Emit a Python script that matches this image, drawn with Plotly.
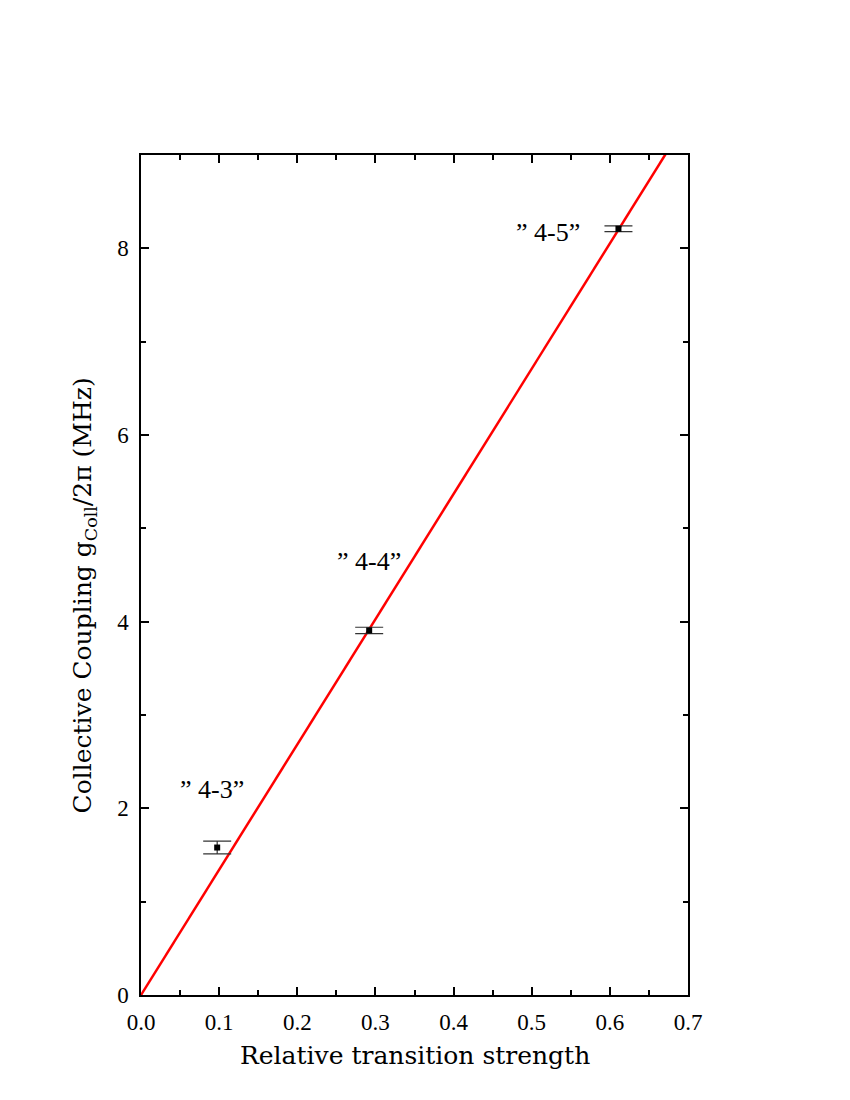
import plotly.graph_objects as go

# measured data points
strength = [0.0975, 0.292, 0.611]
coupling = [1.58, 3.906, 8.21]
coupling_err = [0.068, 0.034, 0.03]
labels = ["” 4-3”", "” 4-4”", "” 4-5”"]
label_x = [0.091, 0.292, 0.521]
label_y = [2.2, 4.64, 8.17]

# linear fit through origin
slope = 13.42
fit_x = [0.0, 0.7]
fit_y = [slope * v for v in fit_x]

serif = "Liberation Serif"
wide_serif = "DejaVu Serif"

fig = go.Figure()

fig.add_trace(go.Scatter(x=fit_x, y=fit_y, mode="lines",
                         line=dict(color="#ff0000", width=2.5), showlegend=False))

fig.add_trace(go.Scatter(x=strength, y=coupling, mode="markers",
                         marker=dict(symbol="square", size=6, color="black"),
                         error_y=dict(type="data", array=coupling_err, color="#333333",
                                      thickness=1.2, width=14),
                         showlegend=False))

for t, xx, yy in zip(labels, label_x, label_y):
    fig.add_annotation(x=xx, y=yy, text=t, showarrow=False,
                       font=dict(family=serif, size=26, color="black"))

# axis titles as annotations so they can be placed like the original
fig.add_annotation(x=0.5, y=-0.0725, xref="paper", yref="paper", text="Relative transition strength",
                   showarrow=False, xanchor="center", yanchor="middle",
                   font=dict(family=wide_serif, size=25, color="black"))
fig.add_annotation(x=-0.1024, y=0.4756, xref="paper", yref="paper",
                   text="Collective Coupling g<sub>Coll</sub>/2π (MHz)", textangle=-90,
                   showarrow=False, xanchor="center", yanchor="middle",
                   font=dict(family=wide_serif, size=25, color="black"))

axis_common = dict(showgrid=False, zeroline=False, showline=True, linecolor="black",
                   linewidth=1.5, mirror="allticks", ticks="inside", ticklen=8,
                   tickwidth=1.5, tickcolor="black",
                   tickfont=dict(family=serif, size=23, color="black"))

fig.update_xaxes(range=[0, 0.7], dtick=0.1, tickformat=".1f", ticklabelstandoff=6,
                 minor=dict(dtick=0.05, ticks="inside", ticklen=5, tickwidth=1.5, tickcolor="black"),
                 **axis_common)
fig.update_yaxes(range=[0, 9], dtick=2, ticklabelstandoff=6,
                 minor=dict(dtick=1, ticks="inside", ticklen=5, tickwidth=1.5, tickcolor="black"),
                 **axis_common)

fig.update_layout(width=850, height=1100, plot_bgcolor="white", paper_bgcolor="white",
                  margin=dict(l=133, r=170, t=147, b=113))

fig.write_html("out.html")
